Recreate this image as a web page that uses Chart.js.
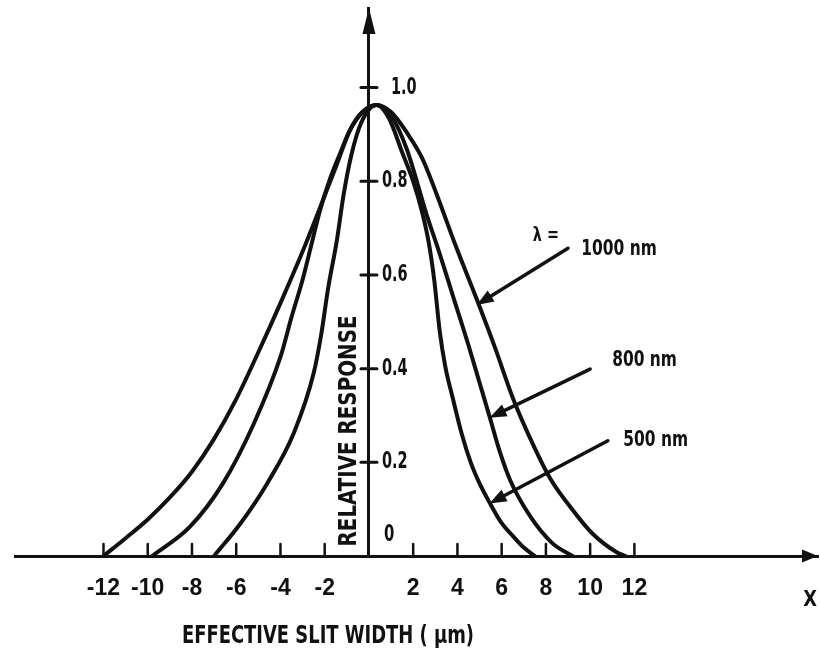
<!DOCTYPE html>
<html><head><meta charset="utf-8">
<script src="https://cdn.jsdelivr.net/npm/chart.js@4.4.0/dist/chart.umd.min.js"></script>
<style>html,body{margin:0;padding:0;background:#fff;}#wrap{width:820px;height:654px;}</style>
</head><body><div id="wrap"><canvas id="c" width="820" height="654"></canvas></div>
<script>
// ---- data ----
const x1000 = [-12.0, -11.0, -10.0, -9.0, -8.0, -7.0, -6.0, -5.0, -4.0, -3.0, -2.2, -1.5, -0.85, -0.3, 0.35, 1.0, 1.7, 2.4, 3.0, 3.9, 4.9, 5.7, 6.5, 7.4, 8.2, 9.1, 10.1, 11.2, 11.6];
const y1000 = [0, 0.038, 0.078, 0.125, 0.18, 0.25, 0.335, 0.435, 0.54, 0.65, 0.745, 0.83, 0.91, 0.948, 0.963, 0.948, 0.905, 0.85, 0.78, 0.665, 0.545, 0.445, 0.338, 0.24, 0.165, 0.105, 0.048, 0.008, 0];

const x800 = [-9.8, -8.1, -6.6, -5.2, -4.0, -3.5, -3.0, -2.6, -2.2, -1.8, -1.3, -0.85, -0.3, 0.35, 1.0, 1.7, 2.6, 3.2, 3.8, 4.5, 5.0, 5.5, 5.9, 6.4, 7.3, 8.3, 9.2];
const y800 = [0, 0.062, 0.155, 0.283, 0.425, 0.51, 0.59, 0.665, 0.74, 0.8, 0.86, 0.91, 0.947, 0.963, 0.94, 0.87, 0.73, 0.645, 0.555, 0.45, 0.37, 0.29, 0.225, 0.16, 0.084, 0.027, 0];

const x500 = [-7.0, -5.8, -4.6, -3.4, -2.5, -2.15, -1.85, -1.45, -1.15, -0.8, -0.35, 0.35, 0.9, 1.5, 2.0, 2.4, 2.7, 2.95, 3.2, 3.45, 3.8, 4.2, 4.6, 5.0, 5.5, 6.0, 6.5, 7.0, 7.5];
const y500 = [0, 0.07, 0.155, 0.262, 0.39, 0.475, 0.57, 0.674, 0.77, 0.855, 0.925, 0.963, 0.935, 0.862, 0.8, 0.735, 0.67, 0.59, 0.48, 0.405, 0.335, 0.26, 0.2, 0.155, 0.11, 0.07, 0.043, 0.018, 0];

const seriesNames = ['1000 nm', '800 nm', '500 nm'];
const xTickValues = [-12, -10, -8, -6, -4, -2, 2, 4, 6, 8, 10, 12];
const xTickLabels = ['-12', '-10', '-8', '-6', '-4', '-2', '2', '4', '6', '8', '10', '12'];
const yTickValues = [0, 0.2, 0.4, 0.6, 0.8, 1.0];
const yTickLabels = ['0', '0.2', '0.4', '0.6', '0.8', '1.0'];
const xTitle = 'EFFECTIVE SLIT WIDTH ( \u03bcm)';
const yTitle = 'RELATIVE RESPONSE';
const xAxisName = 'X';
const lambdaLabel = '\u03bb =';
// annotation arrows (data units)
const arrowTailX = [9.0, 10.0, 10.8];
const arrowTailY = [0.657, 0.399, 0.246];
const arrowTipX = [4.87, 5.45, 5.45];
const arrowTipY = [0.536, 0.295, 0.112];
const nameX = [9.6, 11.0, 11.5];
const nameY = [0.655, 0.418, 0.246];

const FF = "'DejaVu Sans Condensed','DejaVu Sans',sans-serif";
const FT = "'Liberation Sans',Arial,sans-serif";
const INK = '#111';

function pts(xs, ys) { return xs.map((x, i) => ({x: x, y: ys[i]})); }
function ds(name, xs, ys) {
  return {label: name, data: pts(xs, ys), borderColor: INK, borderWidth: 4, pointRadius: 0,
    fill: false, cubicInterpolationMode: 'monotone', borderCapStyle: 'round', borderJoinStyle: 'round'};
}

const deco = {
  id: 'deco',
  afterDraw(chart) {
    const {ctx, chartArea: a, scales: {x: xs, y: ys}} = chart;
    const X = v => xs.getPixelForValue(v), Y = v => ys.getPixelForValue(v);
    const x0 = X(0), y0 = Y(0);
    ctx.save();
    ctx.strokeStyle = INK; ctx.fillStyle = INK; ctx.lineCap = 'round';
    const line = (x1, y1, x2, y2, w) => { ctx.lineWidth = w; ctx.beginPath(); ctx.moveTo(x1, y1); ctx.lineTo(x2, y2); ctx.stroke(); };
    const tri = (p) => { ctx.beginPath(); ctx.moveTo(p[0], p[1]); ctx.lineTo(p[2], p[3]); ctx.lineTo(p[4], p[5]); ctx.closePath(); ctx.fill(); };
    const txt = (s, x, y, size, align, base, sx, rot) => {
      ctx.save(); ctx.font = 'bold ' + size + 'px ' + FF; ctx.textAlign = align; ctx.textBaseline = base;
      ctx.translate(x, y); if (rot) ctx.rotate(rot); ctx.scale(sx, 1); ctx.fillText(s, 0, 0); ctx.restore();
    };
    // x tick marks (upward)
    xTickValues.forEach(v => line(X(v), y0, X(v), y0 - 12, 2.5));
    // y tick marks (crossing)
    yTickValues.forEach(v => { if (v !== 0) line(x0 - 8, Y(v), x0 + 8, Y(v), 3); });
    // y tick labels
    yTickValues.forEach((v, i) => {
      if (v === 0) txt(yTickLabels[i], x0 + 15, y0 - 9, 23, 'left', 'bottom', 0.72);
      else txt(yTickLabels[i], x0 + (v === 1 ? 22 : 13), Y(v), 23, 'left', 'middle', 0.7);
    });
    // axis arrowheads
    tri([x0, a.top, x0 - 6.5, a.top + 26, x0 + 6.5, a.top + 26]);
    tri([a.right, y0, a.right - 16, y0 - 6.5, a.right - 16, y0 + 6.5]);
    // annotation arrows
    seriesNames.forEach((n, i) => {
      const tx = X(arrowTailX[i]), ty = Y(arrowTailY[i]), hx = X(arrowTipX[i]), hy = Y(arrowTipY[i]);
      const ang = Math.atan2(hy - ty, hx - tx), L = 17, W = 6.5;
      const bx = hx - L * Math.cos(ang), by = hy - L * Math.sin(ang);
      line(tx, ty, bx, by, 3.5);
      tri([hx, hy, bx + W * Math.sin(ang), by - W * Math.cos(ang), bx - W * Math.sin(ang), by + W * Math.cos(ang)]);
      txt(n, X(nameX[i]), Y(nameY[i]), 22, 'left', 'middle', 0.78);
    });
    txt(lambdaLabel, X(7.41), Y(0.683), 20, 'left', 'middle', 0.8);
    // axis names
    txt(xTitle, X(-1.85), a.bottom + 81, 24, 'center', 'middle', 0.83);
    txt(xAxisName, a.right - 8, a.bottom + 44, 22, 'center', 'middle', 0.9);
    txt(yTitle, X(-0.86), Y(0.267), 24, 'center', 'middle', 0.92, -Math.PI / 2);
    ctx.restore();
  }
};

new Chart(document.getElementById('c'), {
  type: 'line',
  data: {datasets: [ds(seriesNames[0], x1000, y1000), ds(seriesNames[1], x800, y800), ds(seriesNames[2], x500, y500)]},
  options: {
    responsive: false, animation: false, devicePixelRatio: 1,
    layout: {padding: {left: 15, right: 2, top: 8, bottom: 0}},
    plugins: {legend: {display: false}, tooltip: {enabled: false}},
    scales: {
      x: {
        type: 'linear', position: 'bottom', min: -16, max: 20.3,
        grid: {display: false, drawTicks: false},
        border: {display: true, color: INK, width: 3},
        afterBuildTicks: s => { s.ticks = xTickValues.map(v => ({value: v})); },
        afterFit: s => { s.height = 98; },
        ticks: {
          autoSkip: false, maxRotation: 0, padding: 19, color: INK,
          font: {family: FT, size: 23, weight: 'bold'},
          callback: v => { const i = xTickValues.indexOf(v); return i >= 0 ? xTickLabels[i] : ''; }
        }
      },
      y: {
        type: 'linear', position: {x: 0}, min: 0, max: 1.17,
        grid: {display: false, drawTicks: false},
        border: {display: true, color: INK, width: 3},
        afterBuildTicks: s => { s.ticks = yTickValues.map(v => ({value: v})); },
        ticks: {display: false}
      }
    }
  },
  plugins: [deco]
});
</script></body></html>
